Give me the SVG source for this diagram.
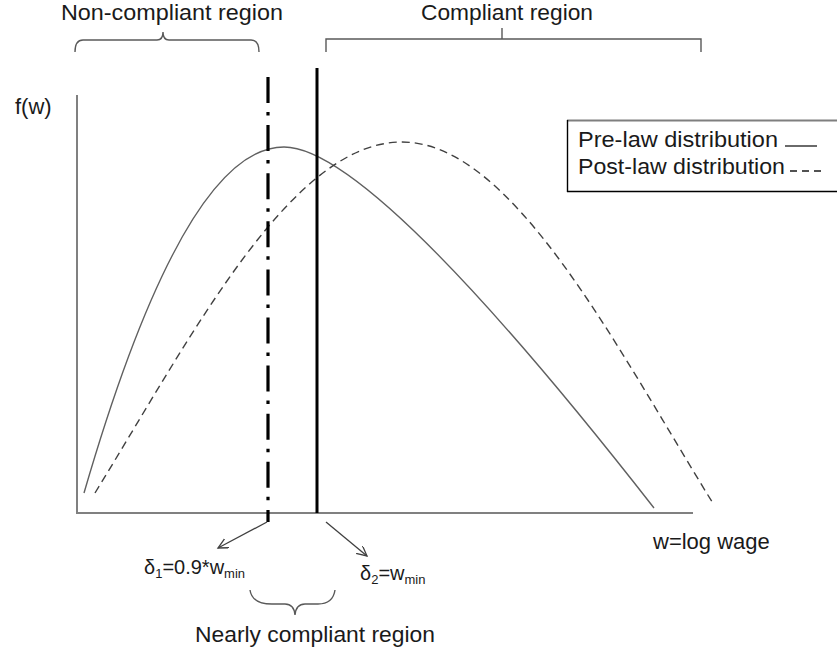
<svg xmlns="http://www.w3.org/2000/svg" width="837" height="657" viewBox="0 0 837 657">
<style>
  text { font-family: "Liberation Sans", Arial, sans-serif; fill: #1a1a1a; }
  .lbl { font-size: 22px; }
  .dl { font-size: 20px; }
  .sub { font-size: 13px; }
  .axis { stroke: #808080; stroke-width: 2; fill: none; }
  .brace { stroke: #595959; stroke-width: 1.4; fill: none; }
  .pre { stroke: #606060; stroke-width: 1.4; fill: none; }
  .post { stroke: #404040; stroke-width: 1.4; fill: none; stroke-dasharray: 8 5; }
  .arrow { stroke: #404040; stroke-width: 1.3; fill: none; marker-end: url(#vhead); }
</style>
<defs>
  <marker id="vhead" markerUnits="userSpaceOnUse" markerWidth="12" markerHeight="12" refX="10" refY="5" orient="auto">
    <path d="M0,0 L10,5 L0,10" fill="none" stroke="#404040" stroke-width="1.3"/>
  </marker>
</defs>
<rect width="837" height="657" fill="#ffffff"/>

<g id="axes">
  <line class="axis" x1="77" y1="95" x2="77" y2="513"/>
  <line class="axis" x1="76" y1="513" x2="693" y2="513"/>
  <text class="lbl" x="15" y="114">f(w)</text>
  <text class="lbl" x="653" y="549">w=log wage</text>
</g>

<g id="pre-law-curve">
  <path class="pre" d="M84,493 Q184.5,147 284,147 C354,147 504,316 654,508"/>
</g>

<g id="post-law-curve">
  <path class="post" d="M95,493 C195,330 292,142 402,142 C512,142 614,343 714,505"/>
</g>

<g id="delta1-line">
  <line x1="268" y1="77" x2="268" y2="522" stroke="#000" stroke-width="3.2" stroke-dasharray="26 9 3.5 9.6"/>
</g>

<g id="delta2-line">
  <line x1="317" y1="68" x2="317" y2="513" stroke="#000" stroke-width="3"/>
</g>

<g id="non-compliant-brace">
  <path class="brace" d="M75,52 Q75,40 83,40 L157,40 Q163,40 163,32 Q163,40 169,40 L251,40 Q259,40 259,52"/>
  <text class="lbl" x="61" y="20" textLength="222" lengthAdjust="spacingAndGlyphs">Non-compliant region</text>
</g>

<g id="compliant-brace">
  <path class="brace" d="M326,52 L326,39 L701,39 L701,52 M502,39 L502,28"/>
  <text class="lbl" x="421" y="20" textLength="172" lengthAdjust="spacingAndGlyphs">Compliant region</text>
</g>

<g id="nearly-compliant-brace">
  <path class="brace" d="M250,590 Q252,604 272,604 L285,604 Q294,604 295,615 Q296,604 305,604 L318,604 Q333,604 335,590"/>
  <text class="lbl" x="195" y="642" textLength="240" lengthAdjust="spacingAndGlyphs">Nearly compliant region</text>
</g>

<g id="legend">
  <line x1="567" y1="120.5" x2="837" y2="120.5" stroke="#7f7f7f" stroke-width="2"/>
  <line x1="567.5" y1="120" x2="567.5" y2="192" stroke="#000" stroke-width="1.4"/>
  <line x1="567" y1="191.5" x2="837" y2="191.5" stroke="#000" stroke-width="1.4"/>
  <text class="lbl" x="578" y="147" textLength="200" lengthAdjust="spacingAndGlyphs">Pre-law distribution</text>
  <line x1="785" y1="146" x2="817" y2="146" stroke="#1a1a1a" stroke-width="1.3"/>
  <text class="lbl" x="578" y="174" textLength="207" lengthAdjust="spacingAndGlyphs">Post-law distribution</text>
  <line x1="790" y1="171" x2="822" y2="171" stroke="#1a1a1a" stroke-width="1.3" stroke-dasharray="7 5"/>
</g>

<g id="delta1-label">
  <text class="dl" x="144" y="574">δ<tspan class="sub" dy="4">1</tspan><tspan dy="-4">=0.9*w</tspan><tspan class="sub" dy="4">min</tspan></text>
</g>

<g id="delta2-label">
  <text class="dl" x="360" y="580">δ<tspan class="sub" dy="4">2</tspan><tspan dy="-4">=w</tspan><tspan class="sub" dy="4">min</tspan></text>
</g>

<g id="connectors">
  <line class="arrow" x1="267" y1="522" x2="218" y2="548"/>
  <line class="arrow" x1="326" y1="522" x2="367" y2="556"/>
</g>
</svg>
